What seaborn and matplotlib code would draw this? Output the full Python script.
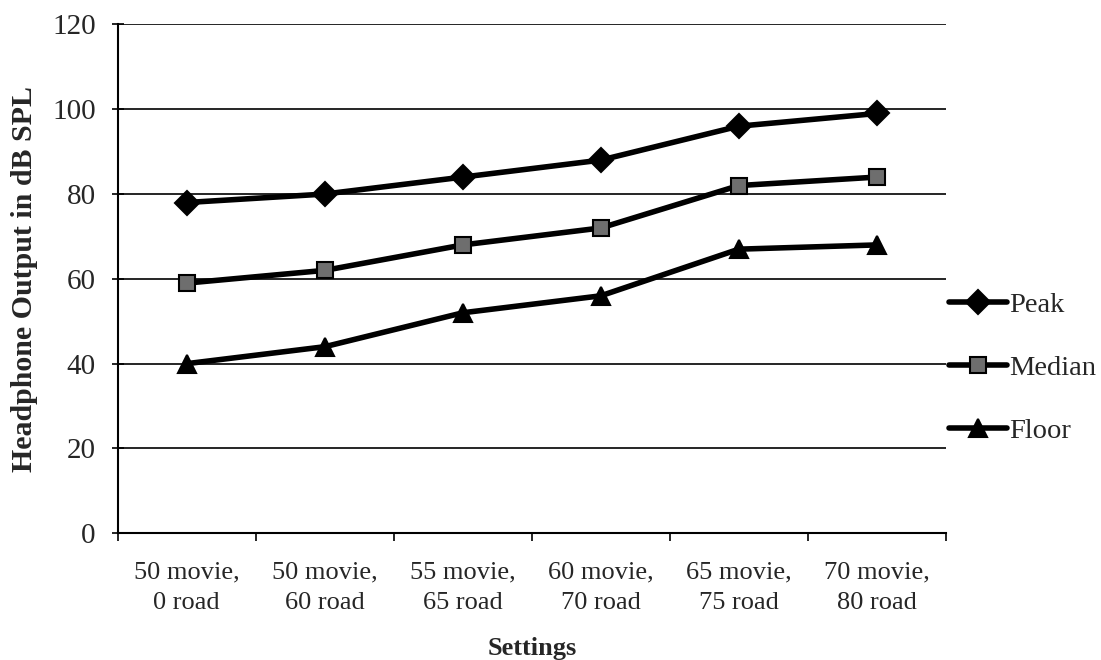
import matplotlib
matplotlib.use("Agg")
import matplotlib.pyplot as plt
import seaborn as sns
import pandas as pd
import numpy as np

categories = ["50 movie,\n0 road", "50 movie,\n60 road", "55 movie,\n65 road",
              "60 movie,\n70 road", "65 movie,\n75 road", "70 movie,\n80 road"]
peak = [78, 80, 84, 88, 96, 99]
median = [59, 62, 68, 72, 82, 84]
floor_ = [40, 44, 52, 56, 67, 68]
series_names = ["Peak", "Median", "Floor"]
y_ticks = [0, 20, 40, 60, 80, 100, 120]

sns.set_theme(style="white")
plt.rcParams['font.family'] = ['Liberation Serif', 'DejaVu Serif']

rows = []
for name, vals in zip(series_names, [peak, median, floor_]):
    for i, v in enumerate(vals):
        rows.append({"pos": i, "Settings": categories[i], "value": v, "series": name})
df = pd.DataFrame(rows)

fig = plt.figure(figsize=(11.01, 6.6), dpi=100)
ax = fig.add_axes([0.107, 0.192, 0.752, 0.771])

markers = {"Peak": "D", "Median": "s", "Floor": "^"}
sizes = {"Peak": 12, "Median": 12, "Floor": 13}
faces = {"Peak": "black", "Median": "#6e6e6e", "Floor": "black"}
for name in series_names:
    sub = df[df.series == name]
    sns.lineplot(data=sub, x="pos", y="value", ax=ax, color="black", lw=4,
                 marker=markers[name], markersize=sizes[name],
                 markerfacecolor=faces[name], markeredgecolor="black",
                 markeredgewidth=1.5, label=name)

ax.set_xlim(-0.5, len(categories) - 0.5)
ax.set_ylim(0, 120)
ax.set_yticks(y_ticks)
ax.set_yticklabels([str(t) for t in y_ticks], fontsize=21)
ax.yaxis.grid(True, color="black", lw=1.2)
ax.set_axisbelow(True)

ax.set_xticks(range(len(categories)))
ax.set_xticklabels(categories, fontsize=19, linespacing=1.55)
ax.set_xticks(np.arange(-0.5, len(categories)), minor=True)
ax.tick_params(axis="x", which="major", length=0, pad=20)
ax.tick_params(axis="x", which="minor", length=6, width=1.2, color="black", direction="out", bottom=True)
ax.tick_params(axis="y", length=8, width=1.2, color="black", direction="inout", left=True, pad=12)

for s in ["top", "right"]:
    ax.spines[s].set_visible(False)
for s in ["left", "bottom"]:
    ax.spines[s].set_color("black")
    ax.spines[s].set_linewidth(1.5)

ax.set_xlabel("Settings", fontsize=19, fontweight="bold", labelpad=16)
ax.set_ylabel("Headphone Output in dB SPL", fontsize=21.5, fontweight="bold", labelpad=10)

leg = ax.legend(loc="center left", bbox_to_anchor=(1.004, 0.324), frameon=False,
                fontsize=20.5, handlelength=2.05, handletextpad=0.05, labelspacing=1.3,
                borderaxespad=0, borderpad=0)

fig.savefig("out.png", dpi=100)
